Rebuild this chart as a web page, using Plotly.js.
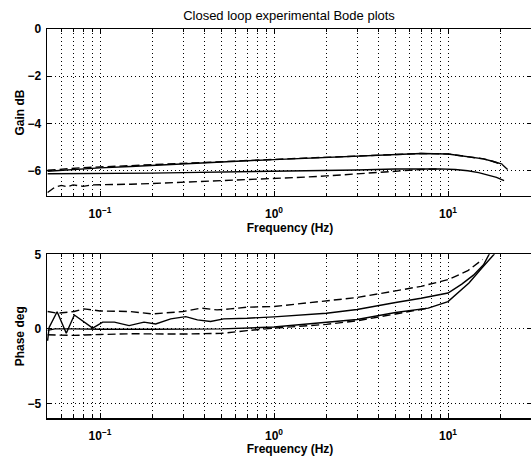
<!DOCTYPE html>
<html>
<head>
<meta charset="utf-8">
<script src="https://cdn.plot.ly/plotly-3.0.1.min.js"></script>
<style>html,body{margin:0;padding:0;background:#fff;overflow:hidden;}#chart{width:533px;height:456px;}</style>
</head>
<body>
<div id="chart"></div>
<script>
// ---- Gain (dB) data ----
const gainHiFreq = [0.05,0.06,0.07,0.08,0.1,0.15,0.2,0.3,0.5,0.7,1,1.5,2,3,5,7,10,13,16,18,20.5];
const gainHiSolid = [-6.02,-5.98,-5.95,-5.92,-5.88,-5.82,-5.77,-5.71,-5.64,-5.58,-5.53,-5.47,-5.43,-5.37,-5.3,-5.27,-5.29,-5.39,-5.5,-5.6,-5.72];
const gainHiDashFreq = [0.05,0.06,0.07,0.08,0.1,0.15,0.2,0.3,0.5,0.7,1,1.5,2,3,5,7,10,13,16,18,20.5,22];
const gainHiDash = [-5.98,-5.93,-5.9,-5.87,-5.84,-5.79,-5.75,-5.69,-5.62,-5.57,-5.52,-5.47,-5.43,-5.37,-5.3,-5.27,-5.29,-5.39,-5.5,-5.6,-5.74,-5.95];
const gainLoFreq = [0.05,0.07,0.1,0.2,0.3,0.5,1,2,3,5,7,9,11,13,15,17,19,21];
const gainLoSolid = [-6.13,-6.13,-6.12,-6.1,-6.08,-6.06,-6.04,-6.0,-5.97,-5.93,-5.91,-5.92,-5.95,-6.0,-6.08,-6.17,-6.28,-6.42];
const gainLoDashFreq = [0.05,0.055,0.06,0.065,0.07,0.08,0.09,0.1,0.15,0.2,0.3,0.5,0.7,1,1.5,2,3,5,7,9];
const gainLoDash = [-6.92,-6.7,-6.62,-6.68,-6.6,-6.66,-6.6,-6.6,-6.57,-6.54,-6.49,-6.43,-6.38,-6.33,-6.27,-6.22,-6.13,-6.02,-5.95,-5.92];

// ---- Phase (deg) data ----
const phHiFreq = [0.05,0.051,0.0567,0.064,0.0712,0.0908,0.1036,0.121,0.147,0.179,0.209,0.255,0.311,0.363,0.432,0.514,0.7,1,2,3,5,7,10,12,14,16,17.6];
const phHiSolid = [-0.8,0.1,1.15,-0.29,0.93,0.05,0.45,0.45,0.22,0.45,0.33,0.67,0.82,0.6,0.49,0.67,0.71,0.8,1.05,1.3,1.77,2.05,2.4,3.0,3.6,4.3,5.2];
const phHiDashFreq = [0.05,0.057,0.071,0.081,0.1,0.15,0.2,0.3,0.38,0.47,0.56,0.7,1,2,3,5,7,10,13,15.8];
const phHiDash = [1.16,1.05,1.16,1.34,1.2,1.16,1.0,1.16,1.39,1.27,1.34,1.45,1.5,1.9,2.1,2.55,2.85,3.3,3.9,4.65];
const phLoFreq = [0.05,0.055,0.07,0.1,0.2,0.5,1,2,3,5,7.7,10,13.2,15.7,17.7,18.4,19.3];
const phLoSolid = [-0.1,0.0,0.0,-0.03,-0.03,0.0,0.12,0.42,0.63,1.1,1.39,1.83,3.07,4.1,4.75,5.0,5.5];
const phLoDashFreq = [0.05,0.06,0.07,0.1,0.15,0.3,0.5,0.7,1,2,3,5,7.7];
const phLoDash = [-0.4,-0.4,-0.44,-0.38,-0.33,-0.35,-0.3,-0.12,0.05,0.3,0.54,1.0,1.39];

// ---- Axis ticks ----
const freqTickVals = [0.1,1,10];
const freqTickText = ['10<sup>−1</sup>','10<sup>0</sup>','10<sup>1</sup>'];
const freqMinorVals = [0.05,0.06,0.07,0.08,0.09,0.2,0.3,0.4,0.5,0.6,0.7,0.8,0.9,2,3,4,5,6,7,8,9,20];
const gainTickVals = [-6,-4,-2,0];
const gainTickText = ['−6','−4','−2','0'];
const phaseTickVals = [-5,0,5];
const phaseTickText = ['−5','0','5'];

const FONT = 'Liberation Sans, Arial, Helvetica, sans-serif';
const GRIDDASH = '1px,3px';
const lineSolid = {color:'#000', width:1.4};
const lineDash = {color:'#000', width:1.4, dash:'8px,4px'};

const traces = [
  {x:gainHiFreq, y:gainHiSolid, line:lineSolid},
  {x:gainHiDashFreq, y:gainHiDash, line:lineDash},
  {x:gainLoFreq, y:gainLoSolid, line:lineSolid},
  {x:gainLoDashFreq, y:gainLoDash, line:lineDash},
  {x:phHiFreq, y:phHiSolid, line:lineSolid, xaxis:'x2', yaxis:'y2'},
  {x:phHiDashFreq, y:phHiDash, line:lineDash, xaxis:'x2', yaxis:'y2'},
  {x:phLoFreq, y:phLoSolid, line:lineSolid, xaxis:'x2', yaxis:'y2'},
  {x:phLoDashFreq, y:phLoDash, line:lineDash, xaxis:'x2', yaxis:'y2'}
].map(t => Object.assign({type:'scatter', mode:'lines', hoverinfo:'skip', showlegend:false}, t));

const tickFont = {family:FONT, size:12, color:'#000', weight:'bold'};
const titleFont = {family:FONT, size:12, color:'#000', weight:'bold'};

// plot area: x from 47px, one decade = 174px; 0.1 Hz at 100px
const xLeft = -1 - 53/174;
const xRight = xLeft + 486/174;

function xAxis(anchor){
  return {
    type:'log', range:[xLeft, xRight], anchor:anchor,
    tickmode:'array', tickvals:freqTickVals, ticktext:freqTickText,
    ticks:'inside', ticklen:5, tickwidth:1, tickcolor:'#000',
    minor:{tickmode:'array', tickvals:freqMinorVals, ticks:'inside', ticklen:3, tickcolor:'#000',
           showgrid:true, gridcolor:'#000', griddash:GRIDDASH, gridwidth:1},
    showline:true, linecolor:'#000', linewidth:1.4, mirror:'ticks',
    showgrid:true, gridcolor:'#000', griddash:GRIDDASH, gridwidth:1,
    zeroline:false, tickfont:tickFont, ticklabelstandoff:6,
    title:{text:'Frequency (Hz)', font:titleFont, standoff:0}
  };
}
function yAxis(anchor, domain, range, vals, text, title){
  return {
    domain:domain, range:range, anchor:anchor,
    tickmode:'array', tickvals:vals, ticktext:text,
    ticks:'inside', ticklen:5, tickwidth:1, tickcolor:'#000',
    showline:true, linecolor:'#000', linewidth:1.4, mirror:'ticks',
    showgrid:true, gridcolor:'#000', griddash:GRIDDASH, gridwidth:1,
    zeroline:false, tickfont:tickFont, ticklabelstandoff:2,
    title:{text:title, font:titleFont, standoff:0}
  };
}

const layout = {
  width:533, height:456,
  margin:{l:47, r:0, t:0, b:0},
  paper_bgcolor:'#fff', plot_bgcolor:'#fff',
  title:{text:'Closed loop experimental Bode plots', font:{family:FONT, size:13, color:'#000'},
         x:(289-47)/486, xanchor:'center', y:1-15/456, yanchor:'middle', xref:'paper', yref:'container'},
  xaxis: xAxis('y'),
  yaxis: yAxis('x', [1-196/456, 1-29/456], [-7.07, 0], gainTickVals, gainTickText, 'Gain dB'),
  xaxis2: xAxis('y2'),
  yaxis2: yAxis('x2', [1-418.3/456, 1-254.3/456], [-6, 5], phaseTickVals, phaseTickText, 'Phase deg')
};

Plotly.newPlot('chart', traces, layout, {displayModeBar:false, staticPlot:true});
</script>
</body>
</html>
